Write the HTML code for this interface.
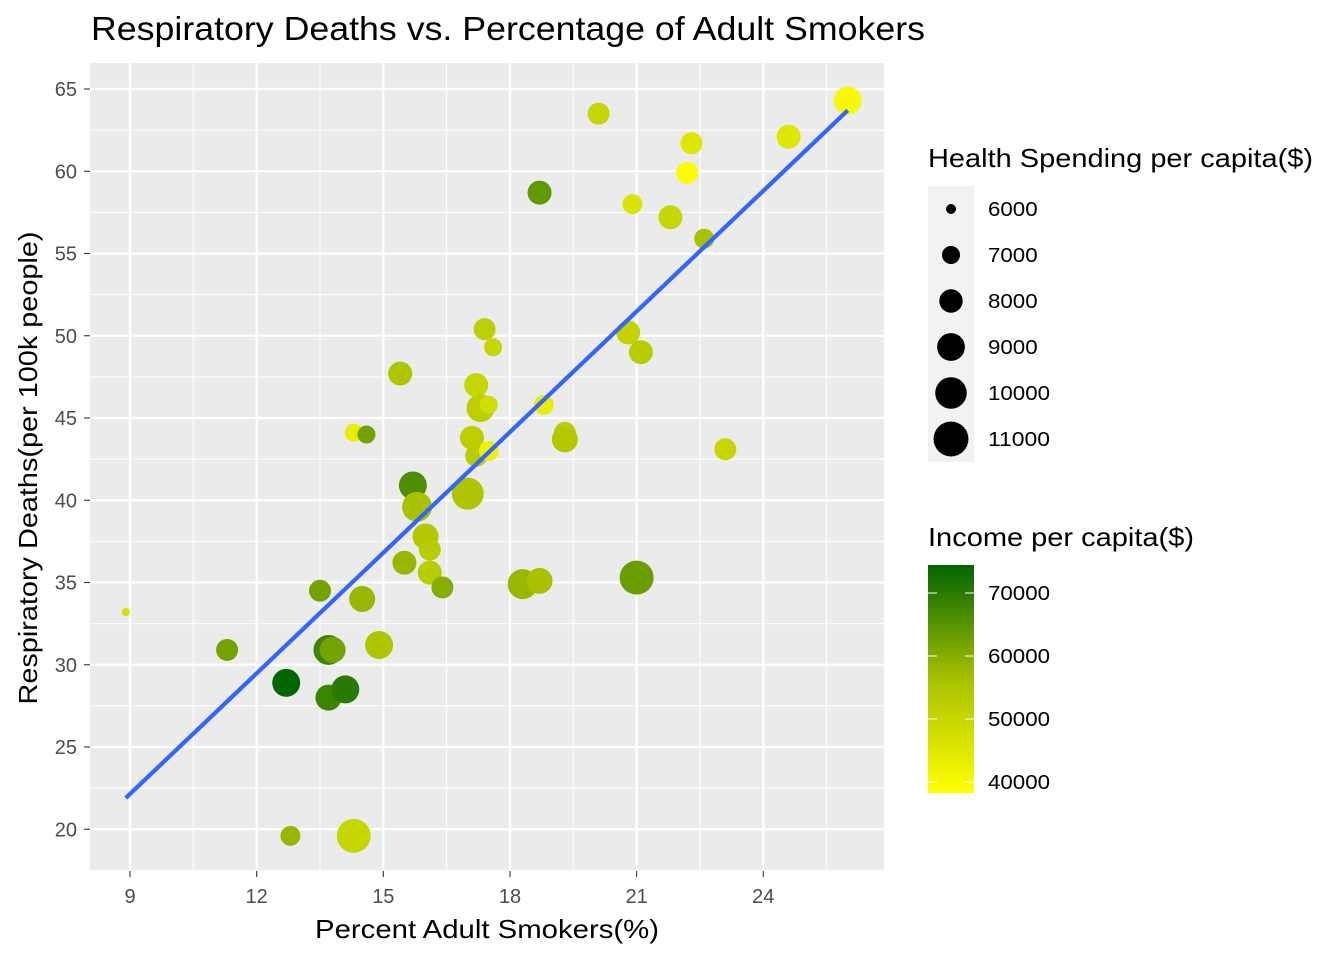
<!DOCTYPE html>
<html><head><meta charset="utf-8"><style>
body{margin:0;background:#fff;}
svg{display:block;font-family:"Liberation Sans",sans-serif;}
</style></head><body>
<svg id="chart" width="1344" height="960" xmlns="http://www.w3.org/2000/svg">
<rect width="1344" height="960" fill="#fff"/>
<text x="91" y="40" font-size="33" textLength="834" lengthAdjust="spacingAndGlyphs" fill="#000">Respiratory Deaths vs. Percentage of Adult Smokers</text>
<rect x="90" y="63" width="794" height="808" fill="#EBEBEB"/>
<g id="grid"></g>
<g id="points"></g>
<g id="axes"></g>
<text x="487" y="938" font-size="26" text-anchor="middle" textLength="344" lengthAdjust="spacingAndGlyphs">Percent Adult Smokers(%)</text>
<text transform="translate(37,468) rotate(-90)" font-size="26" text-anchor="middle" textLength="473" lengthAdjust="spacingAndGlyphs">Respiratory Deaths(per 100k people)</text>
<g>
<text x="928" y="167" font-size="26" textLength="385" lengthAdjust="spacingAndGlyphs">Health Spending per capita($)</text>
<rect x="928" y="186" width="46" height="276" fill="#F2F2F2"/>
<g id="sizeLegend"></g>
</g>
<g>
<text x="928" y="546" font-size="26" textLength="266" lengthAdjust="spacingAndGlyphs">Income per capita($)</text>
<defs><linearGradient id="cg" x1="0" y1="1" x2="0" y2="0">
<stop offset="0" stop-color="#FFFF00"/><stop offset="0.5" stop-color="#A8C000"/><stop offset="1" stop-color="#006400"/></linearGradient></defs>
<rect x="928" y="565" width="46" height="228" fill="url(#cg)"/>
<g id="colorLegend"></g>
</g>
</svg>
<script>
const smokers=[8.9,11.3,12.7,12.8,13.5,13.7,13.8,13.7,14.1,14.3,14.3,14.6,14.5,14.9,15.4,15.5,15.7,15.8,16.0,16.1,16.1,16.4,17.0,17.1,17.2,17.3,17.2,17.5,17.4,17.6,17.5,18.3,18.7,18.7,18.8,19.3,19.3,20.1,20.8,20.9,21.1,21.0,21.8,22.2,22.3,22.6,23.1,24.6,26.0];
const deaths=[33.2,30.9,28.9,19.6,34.5,30.9,30.9,28.0,28.5,19.6,44.1,44.0,34.0,31.2,47.7,36.2,40.9,39.6,37.8,37.0,35.6,34.7,40.4,43.8,47.0,45.6,42.7,43.0,50.4,49.3,45.8,34.9,35.1,58.7,45.8,44.1,43.7,63.5,50.2,58.0,49.0,35.3,57.2,59.9,61.7,55.9,43.1,62.1,64.3];
const spending=[5840,7710,9050,7340,7710,9570,8570,8570,9050,10710,7000,7000,8570,9050,8125,8125,9050,9570,8570,7710,8125,7710,10125,8125,8125,9050,7710,7340,7710,7000,7000,9570,8570,8125,7340,7710,8570,7710,8125,7340,8125,10710,8125,7710,7710,7340,7710,8125,9050];
const income=[47000,62000,74000,58000,62000,68000,62000,68000,70000,50000,43000,62000,58000,55000,55000,58000,66000,56000,54000,53000,53000,60000,55000,52000,50000,52000,53000,42000,52000,50000,48000,58000,56000,64000,43000,52000,54000,50000,51000,46000,53000,63000,50000,39000,45000,56000,50000,45000,40000];
const xTicks=[9,12,15,18,21,24];
const yTicks=[20,25,30,35,40,45,50,55,60,65];
const sizeBreaks=[6000,7000,8000,9000,10000,11000];
const colorBreaks=[40000,50000,60000,70000];
const fitX=[8.9,26.0];
const fitY=[21.9,63.7];

const NS="http://www.w3.org/2000/svg";
const X=v=>130+(v-9)*42.22;
const Y=v=>89+(65-v)*16.45;
const R=h=>Math.sqrt(Math.max(4,25+(h-6000)*0.056));
const CY=v=>782-(v-40000)*0.0063;
function col(v){let t=Math.max(0,Math.min(1,(v-38250)/(74400-38250)));
 let a,b,u;if(t<0.5){a=[255,255,0];b=[168,192,0];u=t/0.5;}else{a=[168,192,0];b=[0,100,0];u=(t-0.5)/0.5;}
 return `rgb(${a.map((c,i)=>Math.round(c+(b[i]-c)*u)).join(',')})`;}
function mk(tag,attrs,parent){const e=document.createElementNS(NS,tag);for(const k in attrs)e.setAttribute(k,attrs[k]);parent.appendChild(e);return e;}
const grid=document.getElementById('grid'),axes=document.getElementById('axes'),pts=document.getElementById('points');
for(let v=7.5;v<=27;v+=1.5){const major=xTicks.includes(v);const px=X(v);if(px<90||px>884)continue;
 const l=mk('line',{x1:px,x2:px,y1:63,y2:871,stroke:'#fff','stroke-width':major?2.2:1.1},grid);
 
 }
for(let v=17.5;v<=67.5;v+=2.5){const major=yTicks.includes(v);const py=Y(v);if(py<63||py>871)continue;
 const l=mk('line',{x1:90,x2:884,y1:py,y2:py,stroke:'#fff','stroke-width':major?2.2:1.1},grid);
 
 }
xTicks.forEach(v=>{const px=X(v);
 const t=mk('line',{x1:px,x2:px,y1:871,y2:877,stroke:'#333','stroke-width':1.1},axes);
 
 
 const tx=mk('text',{x:px,y:903,'font-size':20,'text-anchor':'middle',fill:'#4D4D4D'},axes);tx.textContent=v;
 
 });
yTicks.forEach(v=>{const py=Y(v);
 const t=mk('line',{x1:84,x2:90,y1:py,y2:py,stroke:'#333','stroke-width':1.1},axes);
 
 
 const tx=mk('text',{x:77,y:py+7,'font-size':20,'text-anchor':'end',fill:'#4D4D4D'},axes);tx.textContent=v;
 
 });
smokers.forEach((s,i)=>{const c=mk('circle',{cx:X(s),cy:Y(deaths[i]),r:R(spending[i]),fill:col(income[i])},pts);
 
 });
const fl=mk('line',{x1:X(fitX[0]),y1:Y(fitY[0]),x2:X(fitX[1]),y2:Y(fitY[1]),stroke:'#3366FF','stroke-width':4.2},pts);


const sl=document.getElementById('sizeLegend');
sizeBreaks.forEach((v,i)=>{const cy=209+i*46;
 const c=mk('circle',{cx:951,cy:cy,r:R(v),fill:'#000'},sl);
 
 
 const t=mk('text',{x:988,y:cy+7,'font-size':20,textLength:String(v).length*12.4,lengthAdjust:'spacingAndGlyphs'},sl);t.textContent=v;
 
 });
const cl=document.getElementById('colorLegend');
colorBreaks.forEach(v=>{const cy=CY(v);
 mk('line',{x1:928,x2:937,y1:cy,y2:cy,stroke:'#fff','stroke-width':1},cl);
 mk('line',{x1:965,x2:974,y1:cy,y2:cy,stroke:'#fff','stroke-width':1},cl);
 const t=mk('text',{x:988,y:cy+7,'font-size':20,textLength:String(v).length*12.4,lengthAdjust:'spacingAndGlyphs'},cl);t.textContent=v;
 
 });
</script>
</body></html>
